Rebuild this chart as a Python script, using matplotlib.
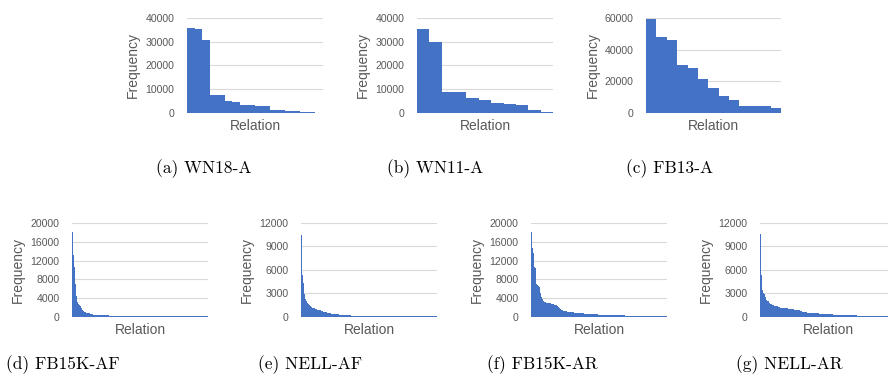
import numpy as np
import matplotlib
matplotlib.use("Agg")
import matplotlib.pyplot as plt


# relation frequencies, sorted high to low
wn18_a = [35600, 35400, 30500, 7600, 7500, 5100, 4600, 3300, 3250,
          2900, 2850, 1250, 1200, 800, 750, 400, 380, 200]

wn11_a = [35200, 29900, 8800, 8700, 6300, 5600, 4100, 3700, 3400, 1400, 600]

fb13_a = [59400, 48000, 46100, 30300, 28600, 21500, 15600, 10700, 8200,
          4400, 4400, 4300, 3200]

fb15k_af = [18000, 13100, 10600, 7000, 4500, 3200, 2800, 2600, 2300, 1900,
            1500, 1300, 1100, 1000, 900, 850, 800, 750, 700, 650,
            550, 500, 500, 450, 400, 380, 370, 360, 360, 350,
            340, 340, 330, 330, 320, 320, 320, 310, 310, 310,
            300, 300, 300, 300, 290, 290, 290, 290, 290, 280,
            280, 280, 280, 280, 280, 280, 280, 270, 270, 270,
            270, 270, 270, 270, 270, 270, 260, 260, 260, 260,
            260, 260, 260, 260, 260, 260, 250, 250, 250, 250,
            250, 250, 250, 250, 250, 250, 250, 250, 240, 240,
            240, 240, 240, 240, 240, 240, 240, 240, 240, 240,
            230, 230, 230, 230, 230, 230, 230, 230, 230, 230,
            230, 230, 220, 220, 220, 220, 220, 220, 220, 220,
            220, 220, 220, 220, 210, 210, 210, 210, 210, 210,
            210, 210, 210, 210, 210, 210]

nell_af = [10500, 5400, 4300, 2900, 2300, 2000, 1800, 1650, 1500, 1400,
           1300, 1200, 1150, 1100, 1050, 1000, 950, 900, 880, 850,
           800, 720, 680, 640, 600, 580, 560, 500, 470, 450,
           430, 410, 400, 390, 370, 350, 330, 320, 310, 300,
           300, 290, 290, 280, 280, 270, 260, 230, 210, 200,
           190, 180, 180, 170, 170, 160, 160, 150, 150, 140,
           110, 110, 110, 100, 100, 100, 100, 100, 100, 100,
           100, 100, 100, 100, 100, 100, 100, 100, 100, 100,
           95, 95, 95, 95, 95, 95, 95, 95, 95, 95,
           90, 90, 90, 90, 90, 90, 90, 90, 90, 90,
           90, 90, 90, 90, 90, 85, 85, 85, 85, 85,
           85, 85, 85, 85, 85, 85, 85, 85, 85, 85,
           80, 80, 80, 80, 80, 80, 80, 80, 80, 80,
           80, 80, 80, 80, 80, 80]

fb15k_ar = [18000, 14600, 13600, 10600, 10400, 7000, 6800, 6600, 6400, 5000,
            4300, 3800, 3400, 3200, 3100, 3050, 3000, 2950, 2900, 2900,
            2850, 2800, 2700, 2650, 2600, 2500, 2300, 2100, 1900, 1700,
            1550, 1450, 1350, 1300, 1250, 1200, 1150, 1100, 1100, 1050,
            1000, 980, 960, 940, 920, 900, 880, 850, 820, 800,
            800, 780, 760, 740, 720, 700, 700, 680, 660, 650,
            640, 620, 600, 600, 580, 560, 550, 520, 510, 500,
            500, 490, 480, 480, 470, 470, 460, 460, 450, 450,
            450, 440, 350, 350, 340, 340, 340, 330, 330, 330,
            320, 320, 320, 320, 310, 310, 310, 310, 300, 300,
            300, 300, 300, 300, 250, 250, 250, 240, 240, 240,
            240, 230, 230, 230, 230, 220, 220, 220, 220, 220,
            210, 210, 210, 210, 210, 200, 200, 200, 200, 200,
            200, 200, 190, 190, 190, 190]

nell_ar = [10600, 5400, 3400, 3000, 2900, 2600, 2200, 2100, 2000, 1800,
           1700, 1650, 1550, 1500, 1450, 1400, 1400, 1350, 1300, 1250,
           1200, 1200, 1150, 1150, 1150, 1100, 1100, 1100, 1050, 1050,
           1000, 1000, 980, 960, 940, 920, 900, 880, 860, 840,
           800, 750, 700, 650, 620, 600, 580, 560, 550, 540,
           530, 520, 510, 500, 490, 480, 460, 455, 450, 445,
           440, 435, 430, 425, 420, 415, 410, 405, 400, 400,
           400, 400, 400, 300, 300, 295, 290, 290, 285, 280,
           280, 275, 270, 270, 265, 260, 260, 255, 250, 250,
           250, 250, 250, 200, 200, 195, 195, 190, 190, 185,
           185, 180, 180, 180, 175, 175, 175, 170, 170, 170,
           170, 170, 170, 100, 100, 100, 95, 95, 95, 90,
           90, 90, 90, 85, 85, 85, 85, 80, 80, 80,
           80, 80, 80, 80, 80, 80]

captions = ["(a) WN18-A", "(b) WN11-A", "(c) FB13-A",
            "(d) FB15K-AF", "(e) NELL-AF", "(f) FB15K-AR", "(g) NELL-AR"]

series = [wn18_a, wn11_a, fb13_a, fb15k_af, nell_af, fb15k_ar, nell_ar]
y_max = [40000, 40000, 60000, 20000, 12000, 20000, 12000]
y_step = [10000, 10000, 20000, 4000, 3000, 4000, 3000]

W, H = 888, 384
BLUE = "#4472C4"
GREY_TXT = "#595959"
GRID = "#d9d9d9"

# axes boxes in pixels: left, top, right, bottom
boxes = [(187, 17.5, 323, 113), (417, 17.5, 553, 113), (646, 17.5, 781, 113),
         (72, 222.5, 208, 317), (301, 222.5, 437, 317),
         (531, 222.5, 667, 317), (760, 222.5, 896, 317)]

# caption centres in pixels
caption_pos = [(204, 169), (435, 169), (670, 169),
               (63, 365), (310, 365), (542, 365), (789, 365)]


def make_axes(fig, box):
    l, t, r, b = box
    return fig.add_axes([l / W, 1 - b / H, (r - l) / W, (b - t) / H])


def draw_panel(ax, values, ymax, step):
    n = len(values)
    ax.bar(np.arange(n), values, width=1.0, color=BLUE, linewidth=0, zorder=2)
    ax.set_xlim(-0.5, n - 0.5)
    ax.set_ylim(0, ymax * 1.004)
    ticks = np.arange(0, ymax + 1, step)
    ax.set_yticks(ticks)
    ax.set_yticklabels([str(int(v)) for v in ticks])
    ax.set_xticks([])
    ax.tick_params(axis="y", length=0, pad=9, labelsize=7.6,
                   labelcolor=GREY_TXT)
    for s in ax.spines.values():
        s.set_visible(False)
    ax.grid(axis="y", color=GRID, linewidth=0.8, zorder=0)
    ax.set_axisbelow(True)

    # labels sit at fixed pixel offsets from the plot area
    ax.text(-54 / 136, 0.5, "Frequency", transform=ax.transAxes,
            rotation=90, ha="center", va="center", fontsize=10,
            color=GREY_TXT)
    ax.text(0.5, -0.135, "Relation", transform=ax.transAxes,
            ha="center", va="center", fontsize=10, color=GREY_TXT)


def main():
    plt.rcParams["font.family"] = ["Liberation Sans", "DejaVu Sans"]
    fig = plt.figure(figsize=(W / 100, H / 100), dpi=100)

    for i in range(len(series)):
        ax = make_axes(fig, boxes[i])
        draw_panel(ax, series[i], y_max[i], y_step[i])
        cx, cy = caption_pos[i]
        fig.text(cx / W, 1 - cy / H, captions[i], ha="center", va="center",
                 fontsize=12.5, family=["cmr10", "DejaVu Serif"])

    fig.savefig("out.png", dpi=100)


if __name__ == '__main__':
    main()
